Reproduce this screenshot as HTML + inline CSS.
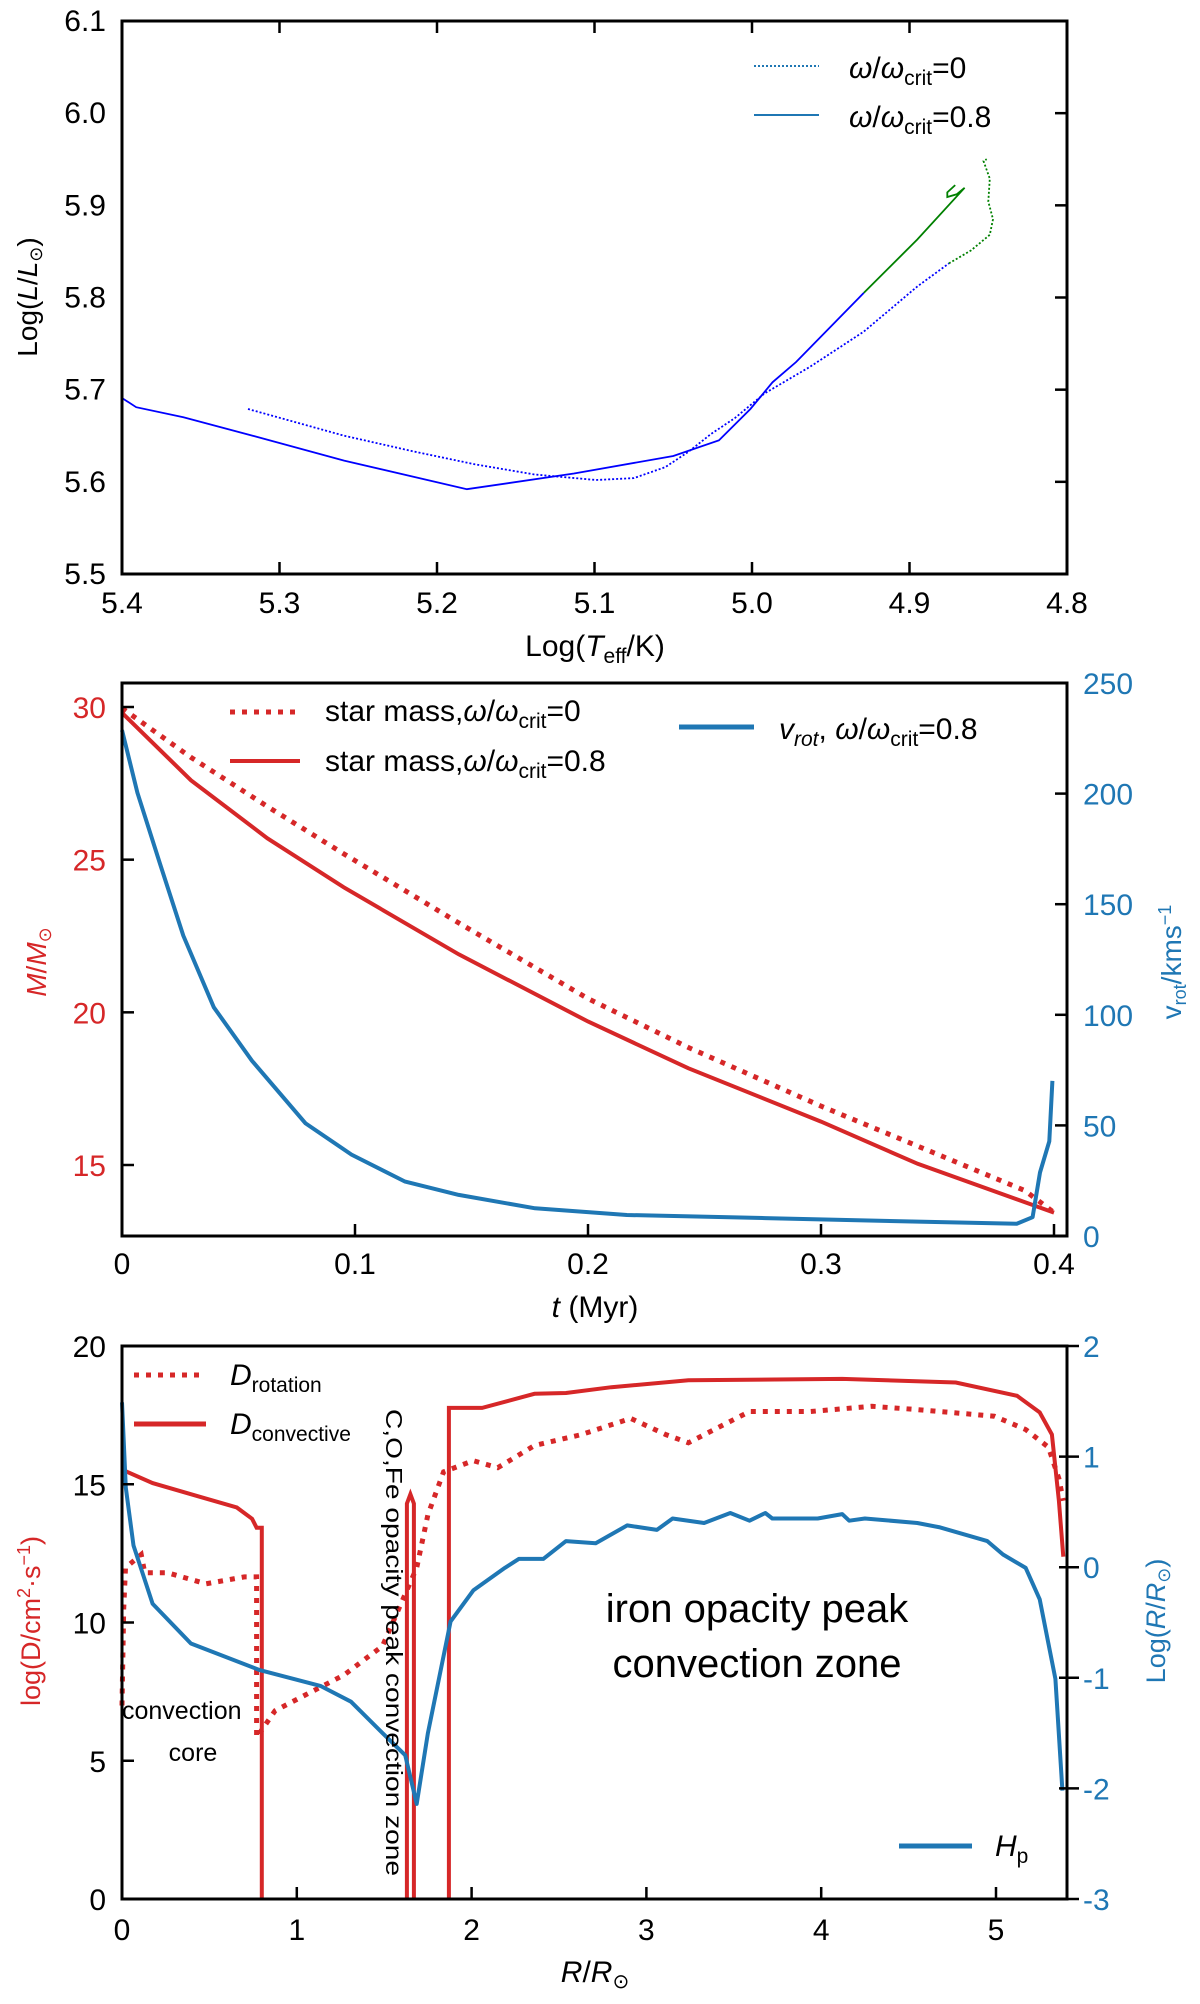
<!DOCTYPE html>
<html><head><meta charset="utf-8"><style>
body{margin:0;background:#fff}
svg text{font-family:"Liberation Sans Narrow","Liberation Sans","DejaVu Sans",sans-serif}
</style></head><body>
<svg id="fig" width="1200" height="1999" viewBox="0 0 1200 1999" xmlns="http://www.w3.org/2000/svg">
<rect width="1200" height="1999" fill="#fff"/>
<g id="p1"></g>
<g id="p2"></g>
<g id="p3"></g>
</svg>
<script>
// ---- Panel 1 data (HR diagram) ----
const hrRotT = [5.4,5.391,5.361,5.317,5.259,5.181,5.113,5.050,5.021,5.001,4.987,4.972,4.929];
const hrRotL = [5.691,5.681,5.670,5.650,5.623,5.592,5.609,5.628,5.645,5.679,5.708,5.730,5.805];
const hrRotGreenT = [4.929,4.895,4.865,4.870,4.876,4.876,4.871];
const hrRotGreenL = [5.805,5.863,5.919,5.912,5.909,5.914,5.922];
const hrNoRotT = [5.320,5.259,5.215,5.176,5.138,5.099,5.075,5.055,5.040,5.026,5.011,4.992,4.963,4.929,4.895,4.875];
const hrNoRotL = [5.679,5.650,5.633,5.619,5.608,5.602,5.604,5.616,5.633,5.652,5.669,5.696,5.725,5.763,5.812,5.837];
const hrNoRotGreenT = [4.875,4.861,4.849,4.847,4.850,4.849,4.853,4.851];
const hrNoRotGreenL = [5.837,5.851,5.868,5.885,5.904,5.929,5.948,5.950];
const p1XTicks = [5.4,5.3,5.2,5.1,5.0,4.9,4.8];
const p1YTicks = [5.5,5.6,5.7,5.8,5.9,6.0,6.1];
// ---- Panel 2 data ----
const massT = [0,0.0296,0.0624,0.095,0.1445,0.2,0.243,0.30,0.3415,0.4];
const massRot = [29.81,27.6,25.7,24.1,21.9,19.7,18.17,16.42,15.04,13.44];
const massNoRotT = [0,0.0296,0.0624,0.095,0.1445,0.2,0.243,0.30,0.3415,0.3875,0.4];
const massNoRot = [29.96,28.35,26.74,25.2,22.93,20.45,18.85,16.93,15.62,14.16,13.44];
const vrotT = [0,0.0066,0.0164,0.0263,0.0394,0.0558,0.0788,0.0985,0.1215,0.1445,0.1773,0.2167,0.276,0.3415,0.384,0.3908,0.394,0.398,0.3993];
const vrot = [228.7,200.4,168,135.8,103.4,79.2,50.9,36.8,24.6,18.6,12.5,9.5,8.1,6.5,5.5,8.5,28.7,42.8,70.1];
const p2XTicks = [0,0.1,0.2,0.3,0.4];
const p2XLabels = ["0","0.1","0.2","0.3","0.4"];
const p2LTicks = [15,20,25,30];
const p2RTicks = [0,50,100,150,200,250];
// ---- Panel 3 data ----
const dconvR = [0,0.175,0.438,0.657,0.744,0.77,0.80,0.80,0.80,1.63,1.63,1.65,1.67,1.67,1.87,1.87,1.87,2.06,2.36,2.54,2.80,3.24,4.12,4.77,5.12,5.25,5.32,5.36,5.385];
const dconv = [15.53,15.04,14.56,14.16,13.75,13.43,13.43,0,null,0,14.3,14.64,14.3,0,null,0,17.76,17.76,18.27,18.3,18.51,18.76,18.81,18.68,18.2,17.6,16.8,14.4,12.38];
const drotR = [0,0.01,0.02,0.11,0.13,0.26,0.48,0.70,0.77,0.77,0.876,1.05,1.27,1.49,1.686,1.75,1.84,2.01,2.15,2.36,2.63,2.91,3.11,3.24,3.59,3.94,4.29,4.55,4.99,5.17,5.30,5.36,5.385];
const drot = [7.0,10.5,11.98,12.46,11.8,11.8,11.4,11.65,11.65,5.84,6.81,7.38,8.1,9.15,11.98,13.9,15.45,15.85,15.6,16.4,16.8,17.38,16.8,16.5,17.63,17.63,17.82,17.7,17.46,16.98,16.34,15.2,14.4];
const hpR = [0,0.022,0.066,0.175,0.394,0.788,1.138,1.31,1.49,1.62,1.686,1.75,1.88,2.01,2.19,2.27,2.41,2.54,2.71,2.89,3.06,3.15,3.33,3.48,3.59,3.68,3.72,3.98,4.12,4.16,4.25,4.55,4.68,4.95,5.04,5.17,5.25,5.34,5.38];
const hp = [1.49,0.72,0.196,-0.33,-0.69,-0.93,-1.075,-1.216,-1.5,-1.70,-2.14,-1.5,-0.49,-0.21,-0.006,0.075,0.075,0.236,0.216,0.378,0.337,0.44,0.4,0.49,0.42,0.49,0.44,0.44,0.48,0.42,0.44,0.4,0.36,0.236,0.115,-0.006,-0.29,-1.01,-2.02];
const p3XTicks = [0,1,2,3,4,5];
const p3LTicks = [0,5,10,15,20];
const p3RTicks = [-3,-2,-1,0,1,2];

const NS="http://www.w3.org/2000/svg";
const RED="#d62728", BLUE="#1f77b4", PB="#0000ff", GR="#008000";
function mk(parent, tag, attrs, txt){
  const e=document.createElementNS(NS,tag);
  for(const k in attrs) e.setAttribute(k,attrs[k]);
  if(txt!==undefined) e.textContent=txt;
  parent.appendChild(e); return e;
}
function lin(d0,d1,p0,p1){return v=>p0+(v-d0)/(d1-d0)*(p1-p0);}
function pathD(xs,ys,sx,sy){
  let d="",pen=false;
  for(let i=0;i<xs.length;i++){
    if(ys[i]===null){pen=false;continue;}
    d+=(pen?"L":"M")+sx(xs[i]).toFixed(1)+","+sy(ys[i]).toFixed(1);pen=true;
  }
  return d;
}
function frame(g,x0,y0,x1,y1){
  const r=mk(g,"rect",{x:x0,y:y0,width:x1-x0,height:y1-y0,fill:"none",stroke:"#000","stroke-width":3});
  
  
}

// ===== Panel 1 =====
(function(){
  const g=document.getElementById("p1");
  const X0=122,X1=1067,Y0=21,Y1=574;
  const sx=lin(5.4,4.8,X0,X1), sy=lin(5.5,6.1,Y1,Y0);
  const lines=[[hrNoRotT,hrNoRotL,PB,"2,2","line-no-rotation"],[hrNoRotGreenT,hrNoRotGreenL,GR,"2,2","line-no-rotation-late"],
    [hrRotT,hrRotL,PB,"","line-rotation"],[hrRotGreenT,hrRotGreenL,GR,"","line-rotation-late"]];
  lines.forEach(l=>{
    const p=mk(g,"path",{d:pathD(l[0],l[1],sx,sy),fill:"none",stroke:l[2],"stroke-width":1.8,"stroke-dasharray":l[3]});
    
    
  });
  frame(g,X0,Y0,X1,Y1);
  p1XTicks.forEach(v=>{
    const x=sx(v);
    mk(g,"line",{x1:x,y1:Y1,x2:x,y2:Y1-12,stroke:"#000","stroke-width":2.5});
    mk(g,"line",{x1:x,y1:Y0,x2:x,y2:Y0+12,stroke:"#000","stroke-width":2.5});
    const t=mk(g,"text",{x:x,y:613,"font-size":30,"text-anchor":"middle"},v.toFixed(1));
    
    
  });
  p1YTicks.forEach(v=>{
    const y=sy(v);
    mk(g,"line",{x1:X1,y1:y,x2:X1-12,y2:y,stroke:"#000","stroke-width":2.5});
    const t=mk(g,"text",{x:106,y:y+10,"font-size":30,"text-anchor":"end"},v.toFixed(1));
    
    
  });
  const xt=mk(g,"text",{x:595,y:656,"font-size":30,"text-anchor":"middle"});
  xt.innerHTML='Log(<tspan font-style="italic">T</tspan><tspan font-size="21" dy="7">eff</tspan><tspan dy="-7">/K)</tspan>';
  
  
  const yt=mk(g,"text",{x:0,y:0,"font-size":28,"text-anchor":"middle",transform:"translate(37,297) rotate(-90)","font-family":"DejaVu Sans"});
  yt.innerHTML='Log(<tspan font-style="italic">L</tspan>/<tspan font-style="italic">L</tspan><tspan font-size="18" dy="5">⊙</tspan><tspan dy="-5">)</tspan>';
  
  
  const l1=mk(g,"line",{x1:754,y1:66,x2:819,y2:66,stroke:BLUE,"stroke-width":2,"stroke-dasharray":"2,2"});
  
  
  const l2=mk(g,"line",{x1:754,y1:115,x2:819,y2:115,stroke:BLUE,"stroke-width":2});
  
  
  const t1=mk(g,"text",{x:849,y:78,"font-size":30});
  t1.innerHTML='<tspan font-style="italic">ω</tspan>/<tspan font-style="italic">ω</tspan><tspan font-size="21" dy="7">crit</tspan><tspan dy="-7">=0</tspan>';
  
  
  const t2=mk(g,"text",{x:849,y:127,"font-size":30});
  t2.innerHTML='<tspan font-style="italic">ω</tspan>/<tspan font-style="italic">ω</tspan><tspan font-size="21" dy="7">crit</tspan><tspan dy="-7">=0.8</tspan>';
  
  
})();

// ===== Panel 2 =====
(function(){
  const g=document.getElementById("p2");
  const X0=122,X1=1067,Y0=683,Y1=1236;
  const sx=lin(0,0.4,122,1054), sy=lin(15,30,1165,707), sr=lin(0,250,Y1,Y0);
  const a=mk(g,"path",{d:pathD(massNoRotT,massNoRot,sx,sy),fill:"none",stroke:RED,"stroke-width":5,"stroke-dasharray":"5,7"});
  
  
  const b=mk(g,"path",{d:pathD(massT,massRot,sx,sy),fill:"none",stroke:RED,"stroke-width":4});
  
  
  const c=mk(g,"path",{d:pathD(vrotT,vrot,sx,sr),fill:"none",stroke:BLUE,"stroke-width":4,"stroke-linejoin":"round"});
  
  
  frame(g,X0,Y0,X1,Y1);
  p2XTicks.forEach((v,i)=>{
    const x=sx(v);
    mk(g,"line",{x1:x,y1:Y1,x2:x,y2:Y1-12,stroke:"#000","stroke-width":2.5});
    const t=mk(g,"text",{x:x,y:1274,"font-size":30,"text-anchor":"middle"},p2XLabels[i]);
    
    
  });
  p2LTicks.forEach(v=>{
    const y=sy(v);
    mk(g,"line",{x1:X0,y1:y,x2:X0+12,y2:y,stroke:"#000","stroke-width":2.5});
    const t=mk(g,"text",{x:106,y:y+11,"font-size":30,"text-anchor":"end",fill:RED},String(v));
    
    
  });
  p2RTicks.forEach(v=>{
    const y=sr(v);
    mk(g,"line",{x1:X1,y1:y,x2:X1-12,y2:y,stroke:"#000","stroke-width":2.5});
    const t=mk(g,"text",{x:1083,y:y+11,"font-size":30,fill:BLUE},String(v));
    
    
  });
  const xt=mk(g,"text",{x:595,y:1317,"font-size":30,"text-anchor":"middle"});
  xt.innerHTML='<tspan font-style="italic">t</tspan> (Myr)';
  
  
  const yl=mk(g,"text",{x:0,y:0,"font-size":28,"text-anchor":"middle",fill:RED,transform:"translate(46,962) rotate(-90)","font-family":"DejaVu Sans"});
  yl.innerHTML='<tspan font-style="italic">M</tspan>/<tspan font-style="italic">M</tspan><tspan font-size="18" dy="5">⊙</tspan>';
  
  
  const yr=mk(g,"text",{x:0,y:0,"font-size":28,"text-anchor":"middle",fill:BLUE,transform:"translate(1181,962) rotate(-90)","font-family":"DejaVu Sans"});
  yr.innerHTML='v<tspan font-size="18" dy="5">rot</tspan><tspan dy="-5">/kms</tspan><tspan font-size="18" dy="-10">−1</tspan>';
  
  
  const s1=mk(g,"line",{x1:230,y1:712,x2:295,y2:712,stroke:RED,"stroke-width":5,"stroke-dasharray":"5,7"});
  
  
  const s2=mk(g,"line",{x1:230,y1:761,x2:300,y2:761,stroke:RED,"stroke-width":4});
  
  
  const s3=mk(g,"line",{x1:679,y1:727,x2:754,y2:727,stroke:BLUE,"stroke-width":5});
  
  
  const t1=mk(g,"text",{x:325,y:721,"font-size":30});
  t1.innerHTML='star mass,<tspan font-style="italic">ω</tspan>/<tspan font-style="italic">ω</tspan><tspan font-size="21" dy="7">crit</tspan><tspan dy="-7">=0</tspan>';
  
  
  const t2=mk(g,"text",{x:325,y:771,"font-size":30});
  t2.innerHTML='star mass,<tspan font-style="italic">ω</tspan>/<tspan font-style="italic">ω</tspan><tspan font-size="21" dy="7">crit</tspan><tspan dy="-7">=0.8</tspan>';
  
  
  const t3=mk(g,"text",{x:779,y:739,"font-size":30});
  t3.innerHTML='<tspan font-style="italic">v</tspan><tspan font-size="21" dy="7" font-style="italic">rot</tspan><tspan dy="-7">, </tspan><tspan font-style="italic">ω</tspan>/<tspan font-style="italic">ω</tspan><tspan font-size="21" dy="7">crit</tspan><tspan dy="-7">=0.8</tspan>';
  
  
})();

// ===== Panel 3 =====
(function(){
  const g=document.getElementById("p3");
  const X0=122,X1=1067,Y0=1346,Y1=1899;
  const sx=lin(0,5,122,996), sy=lin(0,20,Y1,Y0), sr=lin(-3,2,Y1,Y0);
  const a=mk(g,"path",{d:pathD(drotR,drot,sx,sy),fill:"none",stroke:RED,"stroke-width":5,"stroke-dasharray":"5,7"});
  
  
  const b=mk(g,"path",{d:pathD(dconvR,dconv,sx,sy),fill:"none",stroke:RED,"stroke-width":4});
  
  
  const c=mk(g,"path",{d:pathD(hpR,hp,sx,sr),fill:"none",stroke:BLUE,"stroke-width":4,"stroke-linejoin":"round"});
  
  
  frame(g,X0,Y0,X1,Y1);
  p3XTicks.forEach(v=>{
    const x=sx(v);
    mk(g,"line",{x1:x,y1:Y1,x2:x,y2:Y1-12,stroke:"#000","stroke-width":2.5});
    const t=mk(g,"text",{x:x,y:1940,"font-size":30,"text-anchor":"middle"},String(v));
    
    
  });
  p3LTicks.forEach(v=>{
    const y=sy(v);
    mk(g,"line",{x1:X0,y1:y,x2:X0+12,y2:y,stroke:"#000","stroke-width":2.5});
    const t=mk(g,"text",{x:106,y:y+11,"font-size":30,"text-anchor":"end"},String(v));
    
    
  });
  p3RTicks.forEach(v=>{
    const y=sr(v);
    mk(g,"line",{x1:X1-8,y1:y,x2:X1+12,y2:y,stroke:"#000","stroke-width":2.5});
    const t=mk(g,"text",{x:1083,y:y+11,"font-size":30,fill:BLUE},String(v));
    
    
  });
  const xt=mk(g,"text",{x:595,y:1982,"font-size":30,"text-anchor":"middle"});
  xt.innerHTML='<tspan font-style="italic">R</tspan>/<tspan font-style="italic">R</tspan><tspan font-size="20" dy="6">⊙</tspan>';
  
  
  const yl=mk(g,"text",{x:0,y:0,"font-size":27,"text-anchor":"middle",fill:RED,transform:"translate(40,1621) rotate(-90)","font-family":"DejaVu Sans"});
  yl.innerHTML='log(D/cm<tspan font-size="18" dy="-10">2</tspan><tspan dy="10">·s</tspan><tspan font-size="18" dy="-10">−1</tspan><tspan dy="10">)</tspan>';
  
  
  const yr=mk(g,"text",{x:0,y:0,"font-size":27,"text-anchor":"middle",fill:BLUE,transform:"translate(1165,1621) rotate(-90)","font-family":"DejaVu Sans"});
  yr.innerHTML='Log(<tspan font-style="italic">R</tspan>/<tspan font-style="italic">R</tspan><tspan font-size="18" dy="5">⊙</tspan><tspan dy="-5">)</tspan>';
  
  
  const s1=mk(g,"line",{x1:134,y1:1375,x2:203,y2:1375,stroke:RED,"stroke-width":5,"stroke-dasharray":"5,7"});
  
  
  const s2=mk(g,"line",{x1:134,y1:1424,x2:206,y2:1424,stroke:RED,"stroke-width":5});
  
  
  const s3=mk(g,"line",{x1:899,y1:1846,x2:972,y2:1846,stroke:BLUE,"stroke-width":5});
  
  
  const t1=mk(g,"text",{x:230,y:1385,"font-size":30});
  t1.innerHTML='<tspan font-style="italic">D</tspan><tspan font-size="21" dy="7">rotation</tspan>';
  
  
  const t2=mk(g,"text",{x:230,y:1434,"font-size":30});
  t2.innerHTML='<tspan font-style="italic">D</tspan><tspan font-size="21" dy="7">convective</tspan>';
  
  
  const t3=mk(g,"text",{x:995,y:1856,"font-size":30});
  t3.innerHTML='<tspan font-style="italic">H</tspan><tspan font-size="21" dy="7">p</tspan>';
  
  
  const a1=mk(g,"text",{x:757,y:1622,"font-size":40,"text-anchor":"middle"},"iron opacity peak");
  
  
  const a2=mk(g,"text",{x:757,y:1677,"font-size":40,"text-anchor":"middle"},"convection zone");
  
  
  const a3=mk(g,"text",{x:122,y:1719,"font-size":25},"convection");
  
  
  const a4=mk(g,"text",{x:193,y:1761,"font-size":25,"text-anchor":"middle"},"core");
  
  
  const a5=mk(g,"text",{x:0,y:0,"font-size":23,"font-family":"DejaVu Sans",textLength:467,lengthAdjust:"spacingAndGlyphs",transform:"translate(386,1409) rotate(90)"},"C,O,Fe opacity peak convection zone");
  
  
})();
</script>
</body></html>
